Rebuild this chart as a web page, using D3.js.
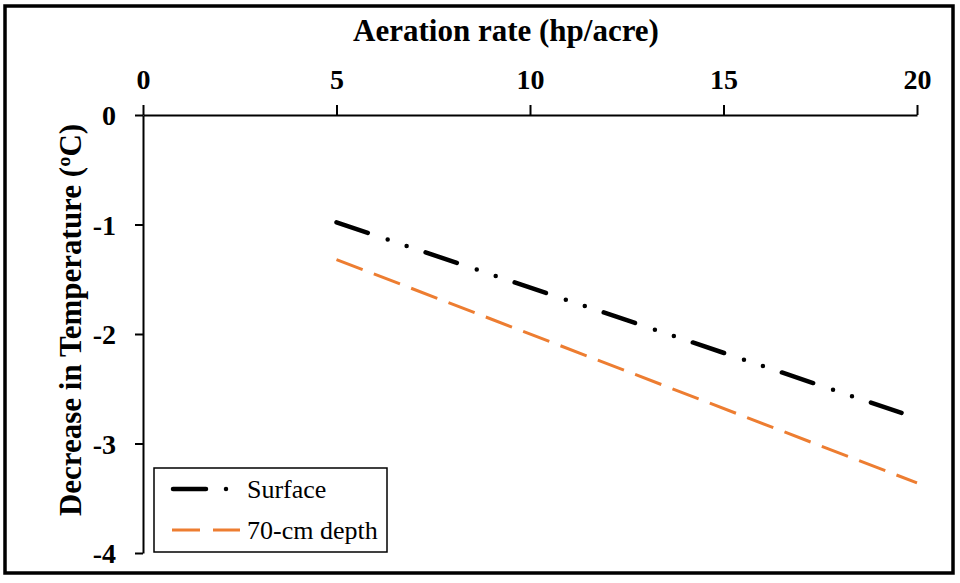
<!DOCTYPE html>
<html>
<head>
<meta charset="utf-8">
<script src="https://cdn.jsdelivr.net/npm/d3@7"></script>
<style>
  body { margin: 0; background: #fff; }
  svg { display: block; }
</style>
</head>
<body>
<svg id="chart" width="960" height="583"></svg>
<script>
// values
var xTicks = [0, 5, 10, 15, 20];
var yTicks = [0, -1, -2, -3, -4];
var seriesNames = ["Surface", "70-cm depth"];
var surfaceX = [5, 19.6];
var surfaceY = [-0.98, -2.72];
var depthX = [5, 20];
var depthY = [-1.32, -3.36];

var serif = "Liberation Serif, Times New Roman, serif";
var svg = d3.select("#chart");

// outer frame
svg.append("rect")
    .attr("x", 5).attr("y", 6)
    .attr("width", 948).attr("height", 567)
    .attr("fill", "none")
    .attr("stroke", "#000")
    .attr("stroke-width", 3.5);

var x = d3.scaleLinear().domain([0, 20]).range([143, 917]);
var y = d3.scaleLinear().domain([0, -4]).range([115, 553]);

// plain hyphen minus like the original
var fmt = function (d) { return d < 0 ? "-" + Math.abs(d) : String(d); };

// x axis sits on y = 0, labels on top
var xAxis = svg.append("g")
    .attr("transform", "translate(0," + y(0) + ")")
    .call(d3.axisTop(x).tickValues(xTicks).tickFormat(fmt)
        .tickSize(10).tickPadding(16).tickSizeOuter(0));

var yAxis = svg.append("g")
    .attr("transform", "translate(" + x(0) + ",0)")
    .call(d3.axisLeft(y).tickValues(yTicks).tickFormat(fmt)
        .tickSize(8).tickPadding(19).tickSizeOuter(0));

[xAxis, yAxis].forEach(function (a) {
    a.select(".domain").attr("stroke", "#000").attr("stroke-width", 2);
    a.selectAll(".tick line").attr("stroke", "#000").attr("stroke-width", 2);
    a.selectAll(".tick text")
        .attr("fill", "#000")
        .style("font-family", serif)
        .style("font-size", "28px")
        .style("font-weight", "bold");
});
yAxis.selectAll(".tick text").attr("dy", "0.34em");

// axis titles
svg.append("text")
    .attr("x", 506).attr("y", 41)
    .attr("text-anchor", "middle")
    .style("font-family", serif)
    .style("font-weight", "bold")
    .style("font-size", "31px")
    .text("Aeration rate (hp/acre)");

svg.append("text")
    .attr("transform", "translate(81,320) rotate(-90)")
    .attr("text-anchor", "middle")
    .style("font-family", serif)
    .style("font-weight", "bold")
    .style("font-size", "31px")
    .text("Decrease in Temperature (ºC)");

var line = d3.line()
    .x(function (d) { return x(d[0]); })
    .y(function (d) { return y(d[1]); });

var surfacePts = d3.zip(surfaceX, surfaceY);
var depthPts = d3.zip(depthX, depthY);

var surfaceStyle = { stroke: "#000", width: 4.5, dash: "33,21,0,20,0,20", cap: "round" };
var depthStyle = { stroke: "#ED7D31", width: 3, dash: "28,12", cap: "butt" };

function styleLine(sel, s) {
    sel.attr("fill", "none")
        .attr("stroke", s.stroke)
        .attr("stroke-width", s.width)
        .attr("stroke-dasharray", s.dash)
        .attr("stroke-linecap", s.cap);
}

svg.append("path").datum(depthPts).attr("d", line).call(styleLine, depthStyle);
svg.append("path").datum(surfacePts).attr("d", line).call(styleLine, surfaceStyle);

// legend
var legend = svg.append("g");
legend.append("rect")
    .attr("x", 154).attr("y", 468)
    .attr("width", 233).attr("height", 84)
    .attr("fill", "#fff")
    .attr("stroke", "#000")
    .attr("stroke-width", 1.5);

var legendRows = [
    { name: seriesNames[0], style: surfaceStyle, y: 489, dash: "33,20,0,100" },
    { name: seriesNames[1], style: depthStyle, y: 530, dash: "28,13,28,20" }
];

legendRows.forEach(function (r) {
    legend.append("line")
        .attr("x1", r.style.cap === "round" ? 173 : 172)
        .attr("x2", 240)
        .attr("y1", r.y).attr("y2", r.y)
        .call(styleLine, r.style)
        .attr("stroke-dasharray", r.dash);
    legend.append("text")
        .attr("x", 247).attr("y", r.y)
        .attr("dy", "0.33em")
        .style("font-family", serif)
        .style("font-size", "26px")
        .text(r.name);
});
</script>
</body>
</html>
